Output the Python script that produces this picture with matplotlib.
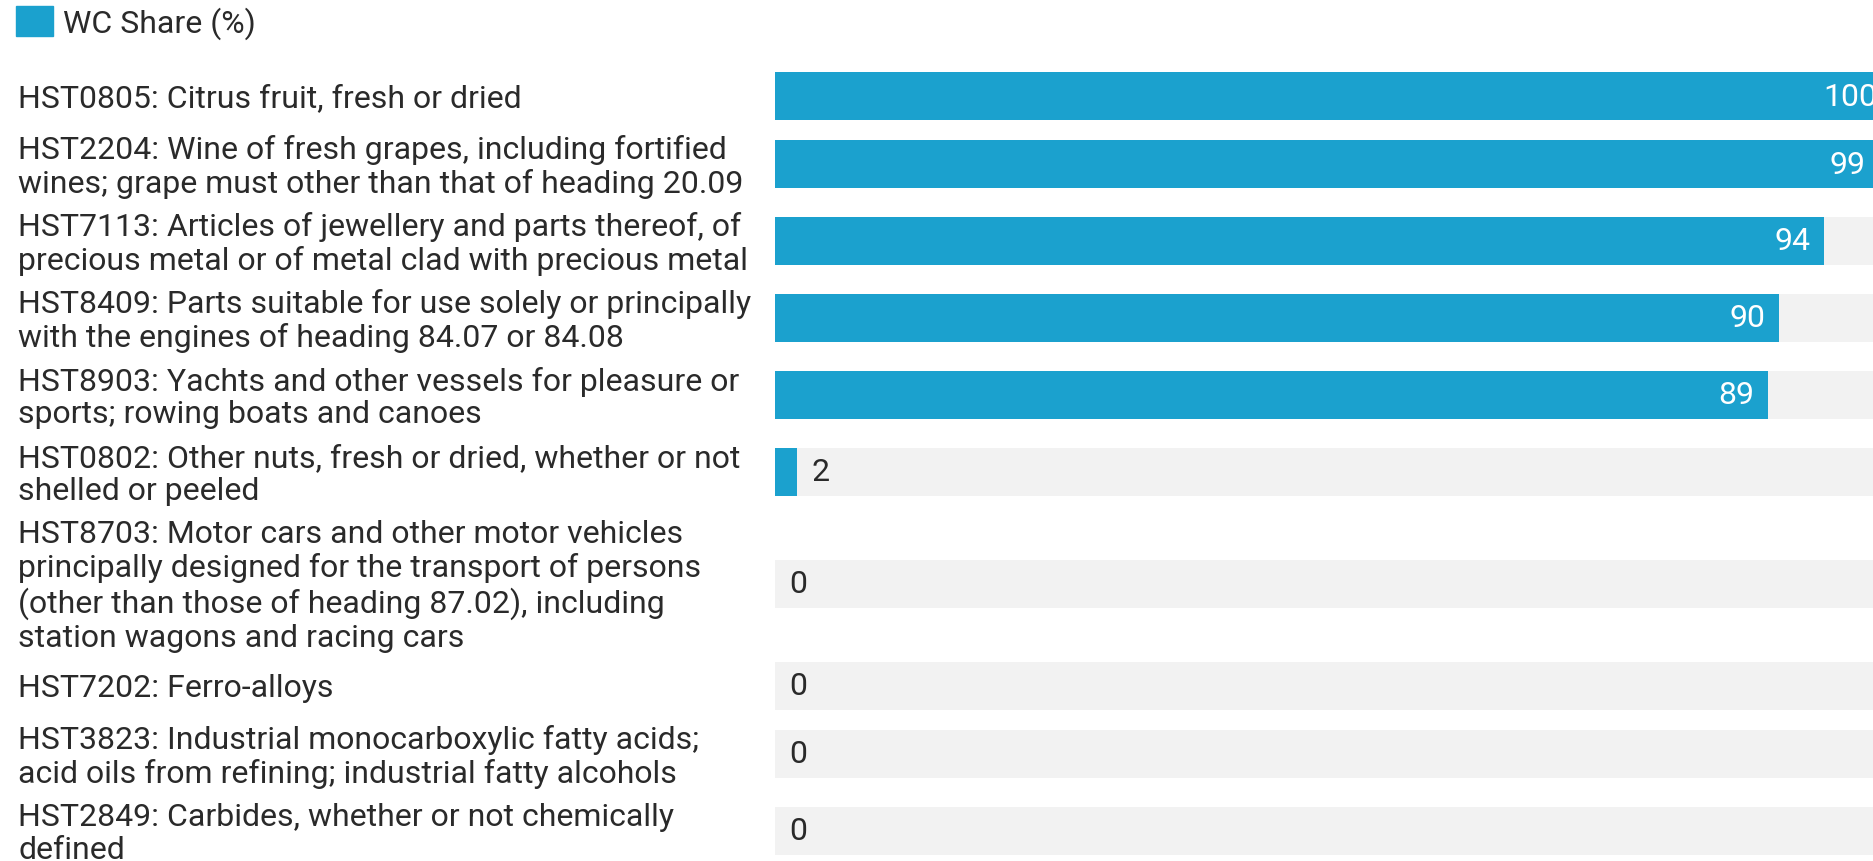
import matplotlib.pyplot as plt
from matplotlib.patches import Patch
from matplotlib.transforms import blended_transform_factory

plt.rcParams['font.family'] = ['Roboto', 'DejaVu Sans']

categories = [
    "HST0805: Citrus fruit, fresh or dried",
    "HST2204: Wine of fresh grapes, including fortified\nwines; grape must other than that of heading 20.09",
    "HST7113: Articles of jewellery and parts thereof, of\nprecious metal or of metal clad with precious metal",
    "HST8409: Parts suitable for use solely or principally\nwith the engines of heading 84.07 or 84.08",
    "HST8903: Yachts and other vessels for pleasure or\nsports; rowing boats and canoes",
    "HST0802: Other nuts, fresh or dried, whether or not\nshelled or peeled",
    "HST8703: Motor cars and other motor vehicles\nprincipally designed for the transport of persons\n(other than those of heading 87.02), including\nstation wagons and racing cars",
    "HST7202: Ferro-alloys",
    "HST3823: Industrial monocarboxylic fatty acids;\nacid oils from refining; industrial fatty alcohols",
    "HST2849: Carbides, whether or not chemically\ndefined",
]
wc_share = [100, 99, 94, 90, 89, 2, 0, 0, 0, 0]

W, H = 1873, 862
bar_color = '#1ba1ce'
bg_color = '#f2f2f2'
text_color = '#2a2a2a'
fs = 23

# row layout in pixels: height depends on number of label lines
centers = []
y = 67.5
for lab in categories:
    n = lab.count('\n') + 1
    h = max(59, 34.5 * n + 8)
    centers.append(y + h / 2)
    y += h

fig = plt.figure(figsize=(W / 100, H / 100), dpi=100)
ax = fig.add_axes([775 / W, 0, 1116 / W, 1])
ax.set_xlim(0, 100)
ax.set_ylim(H, 0)
ax.axis('off')

bar_h = 48
ax.barh(centers, [100] * len(centers), height=bar_h, color=bg_color, zorder=1)
ax.barh(centers, wc_share, height=bar_h, color=bar_color, zorder=2)

px = 100 / 1116  # data units per pixel
for c, v in zip(centers, wc_share):
    if v >= 10:
        ax.text(v - 14 * px, c, str(v), ha='right', va='center', color='white',
                fontsize=fs, zorder=3)
    else:
        ax.text(v + 14 * px, c, str(v), ha='left', va='center', color=text_color,
                fontsize=fs, zorder=3)

tr = blended_transform_factory(fig.transFigure, ax.transData)
for c, lab in zip(centers, categories):
    fig.text(18 / W, c + 2, lab, transform=tr, ha='left', va='center',
             fontsize=fs, color=text_color, linespacing=1.17)

fig.legend(handles=[Patch(facecolor=bar_color, edgecolor=bar_color)],
           labels=['WC Share (%)'], loc='upper left',
           bbox_to_anchor=(16 / W, 1 - 7 / H), frameon=False, borderpad=0,
           borderaxespad=0, handlelength=1.16, handleheight=1.07,
           handletextpad=0.31, fontsize=fs, labelcolor=text_color)

fig.savefig('out.png', dpi=100)
